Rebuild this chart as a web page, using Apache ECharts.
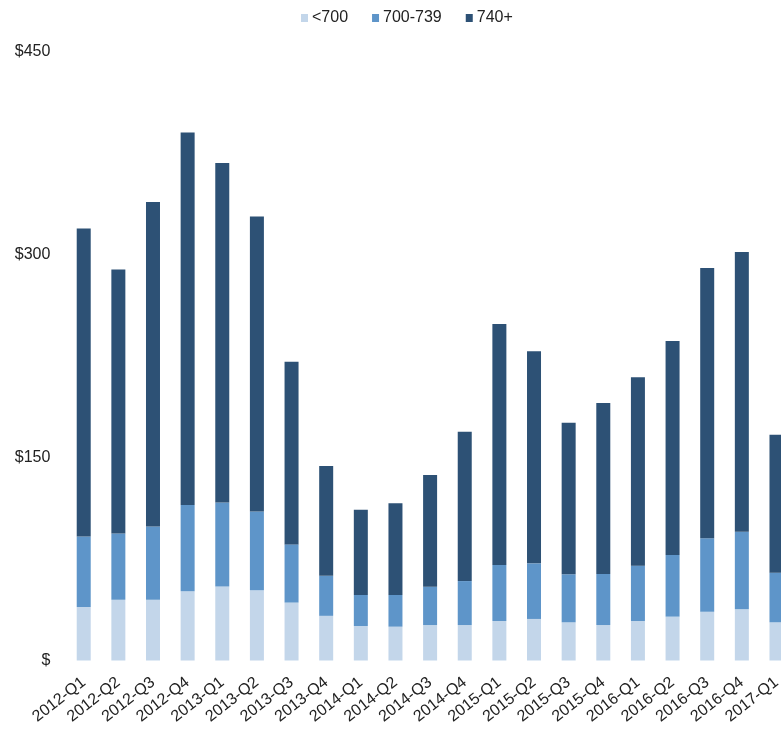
<!DOCTYPE html>
<html>
<head>
<meta charset="utf-8">
<script src="https://cdn.jsdelivr.net/npm/echarts@6/dist/echarts.min.js"></script>
<style>html,body{margin:0;padding:0;background:#fff;overflow:hidden;}#c{width:800px;height:736px;}</style>
</head>
<body>
<div id="c"></div>
<script>
const categories = ['2012-Q1','2012-Q2','2012-Q3','2012-Q4','2013-Q1','2013-Q2','2013-Q3','2013-Q4','2014-Q1','2014-Q2','2014-Q3','2014-Q4','2015-Q1','2015-Q2','2015-Q3','2015-Q4','2016-Q1','2016-Q2','2016-Q3','2016-Q4','2017-Q1'];
const seriesNames = ['<700','700-739','740+'];
const below700 = [39.6,44.9,44.9,51.2,54.7,52.0,42.8,33.0,25.5,25.0,26.2,26.2,29.2,30.7,28.2,26.2,29.2,32.4,36.1,37.8,28.2];
const range700to739 = [52.0,48.9,54.1,63.7,62.0,58.1,43.0,29.6,22.9,23.4,28.3,32.5,41.4,41.1,35.5,37.7,40.9,45.6,54.2,57.4,36.7];
const above740 = [227.7,195.1,239.8,275.2,250.9,217.9,135.0,81.2,63.0,67.8,82.6,110.4,178.1,156.7,112.0,126.4,139.2,158.1,199.7,206.7,102.0];
const yTicks = [0,150,300,450];

const colors = ['#c3d6ea','#5e95c9','#2d5175'];
const font = 'Liberation Sans, Arial, sans-serif';
const chart = echarts.init(document.getElementById('c'));
chart.setOption({
  animation: false,
  color: colors,
  legend: {
    top: 5, left: 296,
    itemWidth: 7, itemHeight: 8, itemGap: 24,
    icon: 'rect',
    textStyle: { fontFamily: font, fontSize: 16, color: '#222', padding: [0,0,0,-1] },
    data: seriesNames
  },
  grid: { left: 66.4, top: 51.5, width: 727.4, height: 609, containLabel: false },
  xAxis: {
    type: 'category',
    data: categories,
    axisLine: { show: false },
    axisTick: { show: false },
    axisLabel: { rotate: 38, fontFamily: font, fontSize: 16, color: '#222', margin: 20, interval: 0 }
  },
  yAxis: {
    type: 'value',
    min: yTicks[0], max: yTicks[yTicks.length-1], interval: 150,
    splitLine: { show: false },
    axisLine: { show: false },
    axisTick: { show: false },
    axisLabel: {
      fontFamily: font, fontSize: 16, color: '#222', margin: 16,
      formatter: v => v === 0 ? '$' : '$' + v
    }
  },
  series: [
    { name: seriesNames[0], type: 'bar', stack: 'a', barWidth: 14, data: below700 },
    { name: seriesNames[1], type: 'bar', stack: 'a', barWidth: 14, data: range700to739 },
    { name: seriesNames[2], type: 'bar', stack: 'a', barWidth: 14, data: above740 }
  ]
});
</script>
</body>
</html>
